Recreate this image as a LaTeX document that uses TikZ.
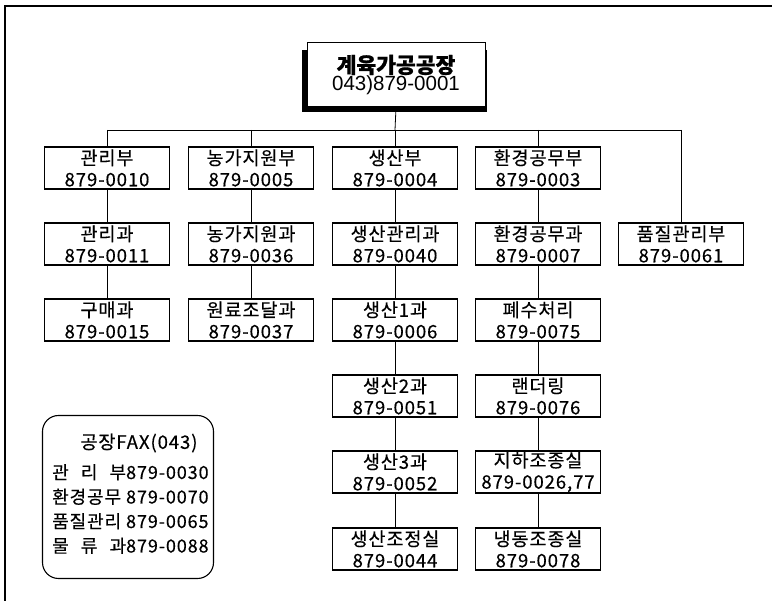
\documentclass[tikz,border=0pt]{standalone}
\usepackage{fontspec}
\usepackage{calc}
\setmainfont[LetterSpace=5,FakeBold=0.4]{Noto Sans CJK KR}
\newfontfamily\topkr[FakeBold=0.8]{Noto Sans CJK KR}
\newfontfamily\arialf{Liberation Sans}
\newcommand{\spreadlab}[3]{\makebox[\widthof{환경공무}+5pt][s]{#1\hfill #2\hfill #3}}
\begin{document}
\begin{tikzpicture}[x=1pt,y=-1pt,
  box/.style={draw=black, line width=1.1pt, minimum width=125pt, minimum height=42pt, inner sep=0pt, align=center, font=\fontsize{18.5}{21.5}\selectfont},
  conn/.style={draw=black, line width=0.8pt}]
\useasboundingbox (0,0) rectangle (772,601);
% frame
\draw[line width=1.2pt] (5,601) -- (5,6) -- (772,6);

% top box
\fill[black] (302,50) rectangle (487,112);
\node[draw=black, fill=white, line width=1pt, minimum width=178pt, minimum height=64pt, inner sep=0pt, align=center] (top) at (396,75)
  {{\topkr\fontsize{21.5}{27}\selectfont\bfseries 계육가공공장}\\{\arialf\fontsize{20.5}{24}\selectfont 043)879-0001}};

% bus coordinates
\coordinate (bs1) at (107,130);
\coordinate (bs2) at (251,130);
\coordinate (bs3) at (395,130);
\coordinate (bs4) at (538,130);
\coordinate (bs5) at (681,130);

% column 1
\node[box] (a1) at (107,168) {관리부\\879-0010};
\node[box] (a2) at (107,244) {관리과\\879-0011};
\node[box] (a3) at (107,320) {구매과\\879-0015};
% column 2
\node[box] (b1) at (251,168) {농가지원부\\879-0005};
\node[box] (b2) at (251,244) {농가지원과\\879-0036};
\node[box] (b3) at (251,320) {원료조달과\\879-0037};
% column 3
\node[box] (c1) at (395,168) {생산부\\879-0004};
\node[box] (c2) at (395,244) {생산관리과\\879-0040};
\node[box] (c3) at (395,320) {생산1과\\879-0006};
\node[box] (c4) at (395,396) {생산2과\\879-0051};
\node[box] (c5) at (395,472) {생산3과\\879-0052};
\node[box] (c6) at (395,549) {생산조정실\\879-0044};
% column 4
\node[box] (d1) at (538,168) {환경공무부\\879-0003};
\node[box] (d2) at (538,244) {환경공무과\\879-0007};
\node[box] (d3) at (538,320) {폐수처리\\879-0075};
\node[box] (d4) at (538,396) {랜더링\\879-0076};
\node[box] (d5) at (538,472) {지하조종실\\879-0026,77};
\node[box] (d6) at (538,549) {냉동조종실\\879-0078};
% column 5
\node[box] (e1) at (681,244) {품질관리부\\879-0061};

% connectors
\draw[conn] (bs1) -- (bs5);
\draw[conn] (top.south) -- (bs3);
\draw[conn] (bs1) -- (a1.north);
\draw[conn] (bs2) -- (b1.north);
\draw[conn] (bs3) -- (c1.north);
\draw[conn] (bs4) -- (d1.north);
\draw[conn] (bs5) -- (e1.north);
\draw[conn] (a1) -- (a2); \draw[conn] (a2) -- (a3);
\draw[conn] (b1) -- (b2); \draw[conn] (b2) -- (b3);
\draw[conn] (c1) -- (c2); \draw[conn] (c2) -- (c3); \draw[conn] (c3) -- (c4); \draw[conn] (c4) -- (c5); \draw[conn] (c5) -- (c6);
\draw[conn] (d1) -- (d2); \draw[conn] (d2) -- (d3); \draw[conn] (d3) -- (d4); \draw[conn] (d4) -- (d5); \draw[conn] (d5) -- (d6);

% FAX box
\node[draw=black, line width=1.1pt, rounded corners=16pt, minimum width=171pt, minimum height=163pt, inner sep=0pt] (fax) at (128,497) {};
\node[font=\fontsize{18.5}{21}\selectfont, anchor=center] (faxt) at (139,443) {공장FAX(043)};
\node[font=\fontsize{18}{24.5}\selectfont, anchor=west, align=left, inner sep=0pt] (faxl) at (52,509)
  {\spreadlab{관}{리}{부}879-0030\\환경공무 879-0070\\품질관리 879-0065\\\spreadlab{물}{류}{과}879-0088};
\end{tikzpicture}
\end{document}
